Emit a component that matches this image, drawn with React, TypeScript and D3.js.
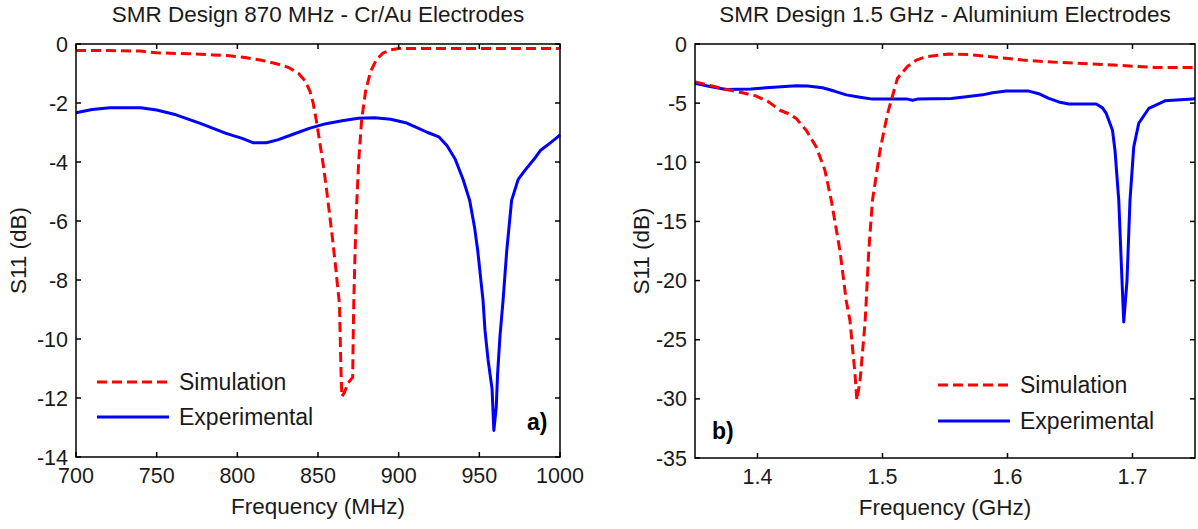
import React from "react";
import * as d3 from "d3";

// ---------- DATA ----------
// Panel a) : SMR Design 870 MHz - Cr/Au Electrodes (frequency in MHz, S11 in dB)
const simAFreq = [700, 720, 740, 750, 770, 785, 795, 805, 815, 825, 832, 838, 842, 845, 847, 849, 851, 853, 855, 857, 859, 861, 862.5, 863.3, 863.8, 864.2, 864.8, 866.5, 868.5, 871.5, 871.8, 872.2, 873, 874, 875.2, 877, 879.5, 882.5, 886, 890, 895, 900, 950, 1000];
const simADb = [-0.22, -0.22, -0.24, -0.3, -0.33, -0.37, -0.4, -0.46, -0.55, -0.68, -0.8, -1.0, -1.25, -1.6, -2.0, -2.6, -3.3, -4.0, -4.8, -5.7, -6.6, -7.6, -8.4, -8.8, -10.0, -11.0, -11.95, -11.8, -11.5, -11.3, -10.0, -8.7, -7.0, -5.4, -4.0, -2.6, -1.6, -0.95, -0.55, -0.32, -0.2, -0.15, -0.15, -0.15];
const expAFreq = [700, 710, 721, 740, 750, 762, 777, 793, 803, 810, 818, 825, 835, 845, 855, 865, 875, 885, 895, 905, 912, 918, 925, 930, 935, 940, 944, 947, 949, 952.3, 953.5, 955.4, 957.9, 959, 960.5, 961.3, 962.8, 964.7, 967, 970, 974, 978, 984, 988, 994, 997.5, 1000];
const expADb = [-2.33, -2.22, -2.16, -2.16, -2.24, -2.4, -2.69, -3.03, -3.2, -3.35, -3.35, -3.25, -3.05, -2.85, -2.7, -2.6, -2.52, -2.5, -2.55, -2.68, -2.85, -3.0, -3.15, -3.45, -3.9, -4.6, -5.3, -6.2, -7.0, -8.7, -9.7, -10.7, -11.7, -13.1, -12.3, -11.2, -9.9, -8.7, -7.0, -5.3, -4.6, -4.3, -3.9, -3.6, -3.35, -3.2, -3.08];
const xTicksA = [700, 750, 800, 850, 900, 950, 1000];
const yTicksA = [0, -2, -4, -6, -8, -10, -12, -14];

// Panel b) : SMR Design 1.5 GHz - Aluminium Electrodes (frequency in GHz, S11 in dB)
const simBFreq = [1.35, 1.362, 1.375, 1.387, 1.399, 1.409, 1.418, 1.425, 1.431, 1.439, 1.447, 1.454, 1.459, 1.466, 1.471, 1.474, 1.478, 1.4795, 1.482, 1.486, 1.487, 1.489, 1.492, 1.498, 1.504, 1.512, 1.52, 1.527, 1.535, 1.553, 1.57, 1.591, 1.612, 1.636, 1.66, 1.684, 1.718, 1.75];
const simBDb = [-3.2, -3.5, -3.84, -4.1, -4.4, -4.9, -5.6, -5.9, -6.3, -7.3, -8.7, -10.7, -13.2, -17.5, -21.7, -23.4, -27.9, -30.1, -28.5, -23.6, -21.7, -17.5, -13.2, -9.0, -5.9, -2.9, -1.9, -1.36, -1.07, -0.85, -0.9, -1.13, -1.36, -1.53, -1.64, -1.78, -1.98, -1.98];
const expBFreq = [1.35, 1.362, 1.375, 1.395, 1.407, 1.431, 1.44, 1.452, 1.462, 1.471, 1.482, 1.492, 1.52, 1.524, 1.528, 1.555, 1.567, 1.58, 1.588, 1.599, 1.617, 1.625, 1.633, 1.641, 1.649, 1.671, 1.676, 1.679, 1.684, 1.686, 1.689, 1.6916, 1.693, 1.6956, 1.698, 1.701, 1.705, 1.713, 1.726, 1.748, 1.75];
const expBDb = [-3.33, -3.6, -3.84, -3.8, -3.7, -3.53, -3.55, -3.7, -4.0, -4.3, -4.5, -4.66, -4.66, -4.75, -4.66, -4.6, -4.46, -4.3, -4.12, -3.98, -3.98, -4.2, -4.6, -4.9, -5.08, -5.08, -5.4, -5.87, -7.3, -9.0, -13.2, -20, -23.5, -20, -13.2, -8.7, -6.7, -5.45, -4.8, -4.66, -4.6];
const xTicksB = [1.4, 1.5, 1.6, 1.7];
const yTicksB = [0, -5, -10, -15, -20, -25, -30, -35];

const legendLabels = ["Simulation", "Experimental"];

// ---------- STYLE / LAYOUT ----------
const FONT = "'Liberation Sans', Arial, sans-serif";
const TEXT = "#1a1a1a";
const RED = "#ff0000";
const BLUE = "#0000ff";

type PanelProps = {
  x0: number; x1: number; y0: number; y1: number;
  xDomain: [number, number]; yDomain: [number, number];
  xTicks: number[]; yTicks: number[];
  simF: number[]; simV: number[]; expF: number[]; expV: number[];
  title: string; xLabel: string; yLabelX: number;
  legendX: number; legendY: number; legendGap: number;
  tag: string; tagX: number; tagY: number;
  fmtX: (v: number) => string;
};

function Panel(p: PanelProps) {
  const xs = d3.scaleLinear().domain(p.xDomain).range([p.x0, p.x1]);
  const ys = d3.scaleLinear().domain(p.yDomain).range([p.y1, p.y0]);
  const line = d3.line<[number, number]>().x((d) => xs(d[0])).y((d) => ys(d[1]));
  const simPts = p.simF.map((f, i) => [f, p.simV[i]] as [number, number]);
  const expPts = p.expF.map((f, i) => [f, p.expV[i]] as [number, number]);
  const tl = 5;
  const cx = (p.x0 + p.x1) / 2;
  const cy = (p.y0 + p.y1) / 2;
  return (
    <g>
      <text x={cx} y={22} textAnchor="middle" fontSize={22.5} fill={TEXT}>{p.title}</text>
      <path d={line(expPts) || ""} fill="none" stroke={BLUE} strokeWidth={3} strokeLinejoin="round" />
      <path d={line(simPts) || ""} fill="none" stroke={RED} strokeWidth={3} strokeDasharray="10,5" strokeLinejoin="round" />
      <rect x={p.x0} y={p.y0} width={p.x1 - p.x0} height={p.y1 - p.y0} fill="none" stroke="#000" strokeWidth={1.5} />
      {p.xTicks.map((t) => (
        <g key={"xt" + t}>
          <line x1={xs(t)} x2={xs(t)} y1={p.y1} y2={p.y1 - tl} stroke="#000" strokeWidth={1.5} />
          <line x1={xs(t)} x2={xs(t)} y1={p.y0} y2={p.y0 + tl} stroke="#000" strokeWidth={1.5} />
          <text x={xs(t)} y={p.y1 + 26} textAnchor="middle" fontSize={21.5} fill={TEXT}>{p.fmtX(t)}</text>
        </g>
      ))}
      {p.yTicks.map((t) => (
        <g key={"yt" + t}>
          <line x1={p.x0} x2={p.x0 + tl} y1={ys(t)} y2={ys(t)} stroke="#000" strokeWidth={1.5} />
          <line x1={p.x1} x2={p.x1 - tl} y1={ys(t)} y2={ys(t)} stroke="#000" strokeWidth={1.5} />
          <text x={p.x0 - 8} y={ys(t) + 7.5} textAnchor="end" fontSize={21.5} fill={TEXT}>{String(t)}</text>
        </g>
      ))}
      <text x={cx} y={p.y1 + 57} textAnchor="middle" fontSize={22.5} fill={TEXT}>{p.xLabel}</text>
      <text transform={`translate(${p.yLabelX},${cy}) rotate(-90)`} textAnchor="middle" fontSize={22.5} fill={TEXT}>S11 (dB)</text>
      {/* legend */}
      <line x1={p.legendX} x2={p.legendX + 70} y1={p.legendY} y2={p.legendY} stroke={RED} strokeWidth={3} strokeDasharray="10,5" />
      <text x={p.legendX + 82} y={p.legendY + 8} fontSize={23} fill={TEXT}>{legendLabels[0]}</text>
      <line x1={p.legendX} x2={p.legendX + 72} y1={p.legendY + p.legendGap} y2={p.legendY + p.legendGap} stroke={BLUE} strokeWidth={3} />
      <text x={p.legendX + 82} y={p.legendY + p.legendGap + 8} fontSize={23} fill={TEXT}>{legendLabels[1]}</text>
      <text x={p.tagX} y={p.tagY} fontSize={23} fontWeight="bold" fill="#000">{p.tag}</text>
    </g>
  );
}

export default function App() {
  return (
    <svg width={1198} height={529} style={{ position: "absolute", left: 0, top: 0, background: "#fff", fontFamily: FONT }}>
      <rect x={0} y={0} width={1198} height={529} fill="#fff" />
      <Panel
        x0={76} x1={560} y0={44} y1={457}
        xDomain={[700, 1000]} yDomain={[-14, 0]}
        xTicks={xTicksA} yTicks={yTicksA}
        simF={simAFreq} simV={simADb} expF={expAFreq} expV={expADb}
        title="SMR Design 870 MHz - Cr/Au Electrodes" xLabel="Frequency (MHz)" yLabelX={26}
        legendX={97} legendY={382} legendGap={35}
        tag="a)" tagX={527} tagY={430}
        fmtX={(v) => String(v)}
      />
      <Panel
        x0={695} x1={1195} y0={44} y1={458}
        xDomain={[1.35, 1.75]} yDomain={[-35, 0]}
        xTicks={xTicksB} yTicks={yTicksB}
        simF={simBFreq} simV={simBDb} expF={expBFreq} expV={expBDb}
        title="SMR Design 1.5 GHz - Aluminium Electrodes" xLabel="Frequency (GHz)" yLabelX={649}
        legendX={938} legendY={385} legendGap={36}
        tag="b)" tagX={712} tagY={439}
        fmtX={(v) => d3.format(".1f")(v)}
      />
    </svg>
  );
}
